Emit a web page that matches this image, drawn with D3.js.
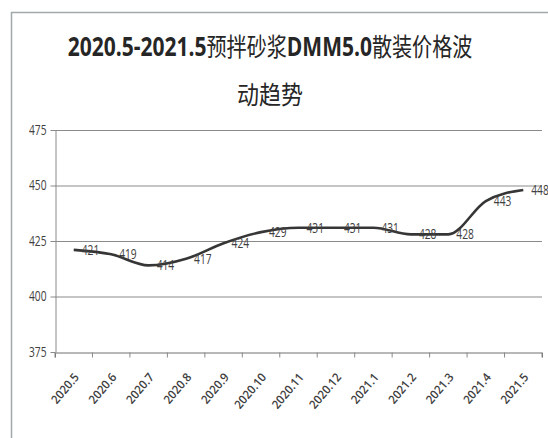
<!DOCTYPE html>
<html><head><meta charset="utf-8">
<script src="https://cdn.jsdelivr.net/npm/d3@7/dist/d3.min.js"></script>
<style>
html,body{margin:0;padding:0;background:#fff;}
svg{display:block;}
</style></head>
<body>
<svg id="chart" width="548" height="438"></svg>
<script>
const months = ["2020.5","2020.6","2020.7","2020.8","2020.9","2020.10","2020.11","2020.12","2021.1","2021.2","2021.3","2021.4","2021.5"];
const prices = [421,419,414,417,424,429,431,431,431,428,428,443,448];
const yTicks = [375,400,425,450,475];
const titleParts = [["2020.5-2021.5","b"],["预拌砂浆","n"],["DMM5.0","b"],["散装价格波","n"]];
const titleLine2 = "动趋势";

const svg = d3.select("#chart");
const latin = "'Open Sans','Liberation Sans',Arial,sans-serif";
const cjk = "'Noto Sans CJK SC',sans-serif";

// outer frame
svg.append("path").attr("d","M11.5,438 V12.5 H548").attr("fill","none").attr("stroke","#a0a8aa").attr("stroke-width",1.5);

const m = {l:55, r:542, t:130, b:352};
const x = d3.scaleBand().domain(months).range([m.l, m.r]);
const y = d3.scaleLinear().domain([375,475]).range([m.b, m.t]);
const cx = d => x(d) + x.bandwidth()/2;

// gridlines
svg.append("g").selectAll("line").data(yTicks.slice(1)).join("line")
  .attr("x1",m.l).attr("x2",m.r).attr("y1",d=>y(d)+0.5).attr("y2",d=>y(d)+0.5)
  .attr("stroke","#8a8a8a").attr("stroke-width",1);

// y axis
const yAxis = d3.axisLeft(y).tickValues(yTicks).tickSize(5).tickSizeOuter(0);
const gy = svg.append("g").attr("transform",`translate(${m.l+0.5},0)`).call(yAxis);
gy.select(".domain").attr("stroke","#8a8a8a");
gy.selectAll(".tick line").attr("stroke","#8a8a8a");
gy.selectAll(".tick text").attr("font-family",latin).attr("font-size",12).attr("fill","#404040")
  .attr("x",0).attr("dy",0).attr("transform","translate(-9,4) scale(0.85,1.2)");

// x axis
const xAxis = d3.axisBottom(x).tickSize(5).tickSizeOuter(5);
const gx = svg.append("g").attr("transform",`translate(0,${m.b+0.5})`).call(xAxis);
gx.select(".domain").attr("stroke","#707070");
gx.selectAll(".tick line").attr("stroke","#8a8a8a").attr("transform",`translate(${-x.bandwidth()/2},0)`);
gx.append("line").attr("x1",m.r).attr("x2",m.r).attr("y1",0).attr("y2",5).attr("stroke","#8a8a8a");
gx.selectAll(".tick text")
  .attr("font-family",latin).attr("font-size",12).attr("font-weight","600").attr("fill","#404040")
  .attr("text-anchor","end").attr("y",0).attr("dy","0")
  .attr("transform","translate(6,25) rotate(-50) scale(0.95,1)");

// line
const line = d3.line().x((d,i)=>cx(months[i])).y(d=>y(d)).curve(d3.curveMonotoneX);
svg.append("path").datum(prices).attr("d",line).attr("fill","none").attr("stroke","#363636").attr("stroke-width",2.6).attr("stroke-linejoin","round");

// data labels
svg.append("g").selectAll("text").data(prices).join("text")
  .attr("transform",(d,i)=>`translate(${cx(months[i])+8},${y(d)+5}) scale(0.85,1.15)`)
  .attr("font-family",latin).attr("font-size",12).attr("fill","#404040")
  .text(d=>d);

// title
const t1 = svg.append("text").attr("text-anchor","middle").attr("fill","#262626");
titleParts.forEach(([s,w])=>{
  t1.append("tspan").text(s)
    .attr("font-family", w==="b"? latin : cjk)
    .attr("font-weight", w==="b"? "bold":"normal")
    .attr("font-size", w==="b"? 23 : 22);
});
const w1 = t1.node().getComputedTextLength();
t1.attr("transform",`translate(270,56) scale(${405/w1},1.15)`);
svg.append("text").attr("transform","translate(270,104) scale(1,1.15)").attr("text-anchor","middle").attr("fill","#262626")
  .attr("font-family",cjk).attr("font-size",22).text(titleLine2);
</script>
</body></html>
